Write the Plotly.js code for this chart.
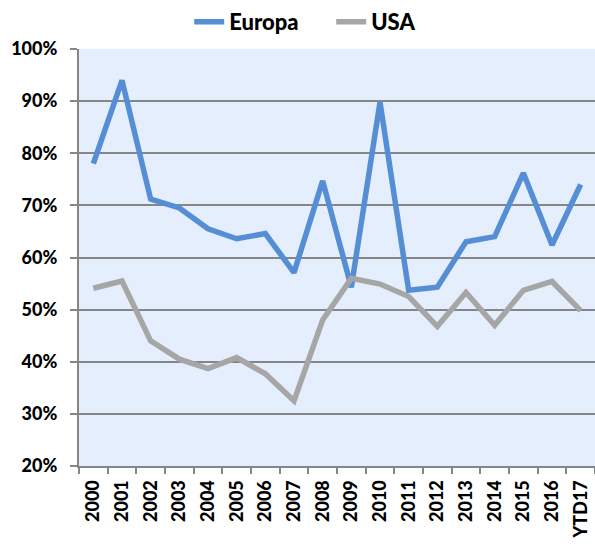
<!DOCTYPE html>
<html>
<head>
<meta charset="utf-8">
<script src="https://cdn.plot.ly/plotly-3.0.1.min.js"></script>
<style>html,body{margin:0;padding:0;background:#fff;}#chart{width:595px;height:550px;}</style>
</head>
<body>
<div id="chart"></div>
<script>
var categories = ["2000","2001","2002","2003","2004","2005","2006","2007","2008","2009","2010","2011","2012","2013","2014","2015","2016","YTD17"];
var europa = [0.780, 0.940, 0.712, 0.695, 0.655, 0.636, 0.646, 0.571, 0.747, 0.543, 0.898, 0.537, 0.543, 0.630, 0.640, 0.762, 0.624, 0.740];
var usa = [0.541, 0.555, 0.440, 0.405, 0.387, 0.408, 0.377, 0.325, 0.480, 0.560, 0.549, 0.525, 0.468, 0.533, 0.470, 0.537, 0.554, 0.498];
var yTicks = [0.2,0.3,0.4,0.5,0.6,0.7,0.8,0.9,1.0];

var fontFam = "Lato, 'DejaVu Sans', sans-serif";
var traces = [
  {x: categories, y: europa, type: 'scatter', mode: 'lines', name: 'Europa',
   line: {color: '#558ED5', width: 5.5}},
  {x: categories, y: usa, type: 'scatter', mode: 'lines', name: 'USA',
   line: {color: '#A6A6A6', width: 5.5}}
];
var layout = {
  width: 595, height: 550,
  margin: {l: 79, r: 0, t: 49, b: 84, pad: 0},
  paper_bgcolor: '#ffffff',
  plot_bgcolor: '#E4EEFC',
  font: {family: fontFam, color: '#000', size: 17, weight: 900},
  showlegend: true,
  legend: {orientation: 'h', xref: 'container', x: 0.318, xanchor: 'left', y: 0.96, yanchor: 'middle',
           yref: 'container', font: {family: fontFam, size: 22, weight: 900, color: '#000'},
           entrywidth: 97, entrywidthmode: 'pixels', tracegroupgap: 0},
  xaxis: {type: 'category', range: [-0.5, 17.5], tickangle: -90, ticks: 'outside', ticklen: 6, tickwidth: 2,
          tickcolor: '#868686', tickson: 'boundaries', showgrid: false,
          showline: true, linecolor: '#868686', linewidth: 2, ticklabelstandoff: 5,
          tickfont: {family: fontFam, size: 18, weight: 900, color: '#000'},
          fixedrange: true},
  yaxis: {range: [0.2, 1.0], tickvals: yTicks, tickformat: '.0%', ticks: 'outside',
          ticklen: 7, tickwidth: 2, tickcolor: '#868686', showgrid: true,
          gridcolor: '#868686', gridwidth: 2, showline: true, linecolor: '#868686',
          linewidth: 2, zeroline: false, ticklabelstandoff: 9,
          tickfont: {family: fontFam, size: 18, weight: 900, color: '#000'},
          fixedrange: true}
};
Plotly.newPlot('chart', traces, layout, {displayModeBar: false, staticPlot: true});
</script>
</body>
</html>
